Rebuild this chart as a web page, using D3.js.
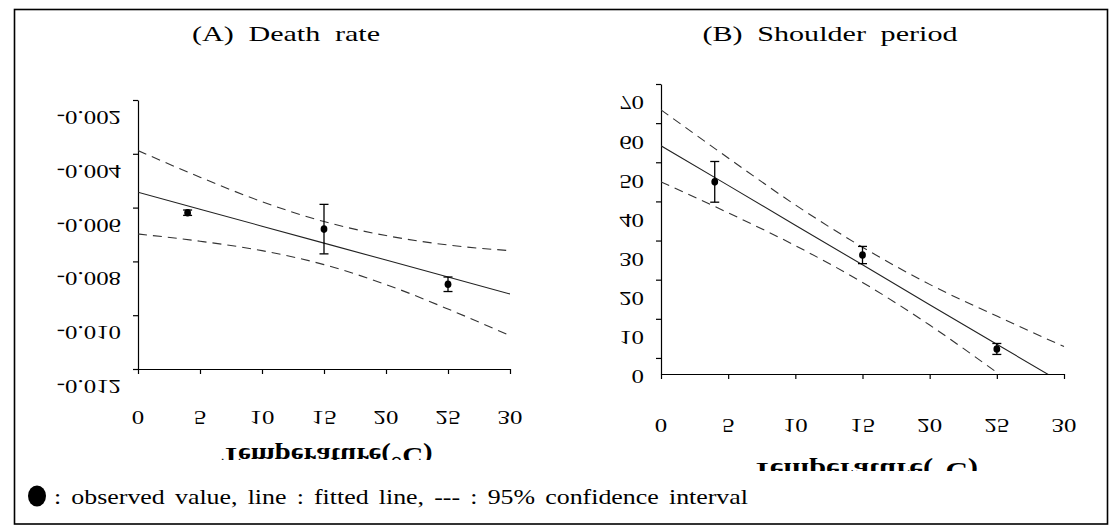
<!DOCTYPE html>
<html><head><meta charset="utf-8">
<script src="https://cdn.jsdelivr.net/npm/d3@7"></script>
<style>
html,body{margin:0;padding:0;background:#fff;}
svg{display:block;}
text{font-family:"Liberation Serif","Times New Roman",serif;fill:#000;}
</style></head>
<body>
<svg id="chart" width="1119" height="528"></svg>
<script>
// ---------- data ----------
const temps = [4, 15, 25];
const deathRate = [-0.00619, -0.00680, -0.00885];
const deathErr = [0.00010, 0.00092, 0.00027];
const shoulder = [45.0, 26.3, 2.3];
const shoulderErr = [5.2, 2.2, 1.4];

const lineX = [0, 5, 10, 15, 20, 25, 30];
const deathFit   = [-0.00543, -0.00606, -0.00669, -0.00732, -0.00795, -0.00858, -0.00921];
const deathUpper = [-0.00388, -0.00487, -0.00578, -0.00652, -0.00704, -0.00739, -0.00760];
const deathLower = [-0.00698, -0.00725, -0.00760, -0.00812, -0.00886, -0.00977, -0.01076];
const shoulderFit   = [54.2, 44.1, 33.9, 23.8, 13.6, 3.5, -6.6];
const shoulderUpper = [63.4, 51.1, 39.1, 28.3, 18.8, 10.7, 2.9];
const shoulderLower = [45.0, 37.1, 28.7, 19.3, 8.4, -3.7, -16.2];

const xTicks = [0, 5, 10, 15, 20, 25, 30];
const xTickLabels = ["0", "5", "10", "15", "20", "25", "30"];
const deathTicks = [-0.002, -0.004, -0.006, -0.008, -0.010, -0.012];
const deathTickLabels = ["-0.002", "-0.004", "-0.006", "-0.008", "-0.010", "-0.012"];
const shoulderTicks = [70, 60, 50, 40, 30, 20, 10, 0];
const shoulderTickLabels = ["70", "60", "50", "40", "30", "20", "10", "0"];

const titles = ["(A) Death rate", "(B) Shoulder period"];
const xTitle = "Temperature(°C)";
const legendText = ": observed value, line : fitted line, --- : 95% confidence interval";

// ---------- drawing ----------
const svg = d3.select("#chart");
const defs = svg.append("defs");

// outer frame
svg.append("rect").attr("x", 14.5).attr("y", 9.5).attr("width", 1093).attr("height", 514.5)
  .attr("fill", "none").attr("stroke", "#000").attr("stroke-width", 1.6);

function panel(cfg) {
  const g = svg.append("g");
  const x = d3.scaleLinear().domain([0, 30]).range([cfg.x0, cfg.x1]);
  const y = d3.scaleLinear().domain(cfg.yDomain).range([cfg.yBottom, cfg.yTop]);
  const axisY = cfg.yBottom;

  // title
  g.append("text").attr("x", cfg.titleX).attr("y", 41).attr("text-anchor", "middle")
    .attr("font-size", 21).attr("word-spacing", 5)
    .attr("textLength", cfg.titleW).attr("lengthAdjust", "spacingAndGlyphs")
    .text(cfg.title);

  // y axis
  const ya = d3.axisLeft(y).tickValues(cfg.yTicks).tickSize(5).tickSizeOuter(0).tickFormat("");
  g.append("g").attr("transform", `translate(${cfg.x0},0)`).call(ya)
    .call(s => s.selectAll("path,line").attr("stroke", "#000").attr("stroke-width", 1.2));
  // x axis
  const xa = d3.axisBottom(x).tickValues(xTicks).tickSize(5).tickSizeOuter(0).tickFormat("");
  g.append("g").attr("transform", `translate(0,${axisY})`).call(xa)
    .call(s => s.selectAll("path,line").attr("stroke", "#000").attr("stroke-width", 1.2));

  // y tick labels (vertically mirrored, shifted as in reference)
  cfg.yTicks.forEach((v, i) => {
    g.append("text")
      .attr("transform", `translate(${cfg.x0 - 17},${y(v) + cfg.labelShift}) scale(1.38,-1)`)
      .attr("text-anchor", "end").attr("font-size", 18).attr("y", 6)
      .text(cfg.yLabels[i]);
  });
  // x tick labels (mirrored)
  xTicks.forEach((v, i) => {
    g.append("text")
      .attr("transform", `translate(${x(v)},${cfg.xLabelY}) scale(1.38,-1)`)
      .attr("text-anchor", "middle").attr("font-size", 18).attr("y", 6)
      .text(xTickLabels[i]);
  });

  // x axis title mirrored and clipped
  const cid = "clip" + cfg.id;
  defs.append("clipPath").attr("id", cid).append("rect")
    .attr("x", cfg.x0 - 100).attr("y", 0).attr("width", 600).attr("height", cfg.xTitleClip);
  g.append("g").attr("clip-path", `url(#${cid})`).append("text")
    .attr("transform", `translate(${cfg.xTitleX},${cfg.xTitleBase}) scale(1,-1)`)
    .attr("text-anchor", "middle").attr("font-size", 23).attr("font-weight", "bold")
    .attr("textLength", cfg.xTitleW).attr("lengthAdjust", "spacingAndGlyphs")
    .text(xTitle);

  // plot clip
  const pid = "plot" + cfg.id;
  defs.append("clipPath").attr("id", pid).append("rect")
    .attr("x", cfg.x0).attr("y", cfg.yTop - 20).attr("width", cfg.x1 - cfg.x0 + 1).attr("height", axisY - cfg.yTop + 20);
  const pg = g.append("g").attr("clip-path", `url(#${pid})`);

  const straight = d3.line().x((d, i) => x(lineX[i])).y(d => y(d));
  const smooth = d3.line().x((d, i) => x(lineX[i])).y(d => y(d)).curve(d3.curveMonotoneX);
  pg.append("path").attr("d", straight(cfg.fit)).attr("fill", "none").attr("stroke", "#222").attr("stroke-width", 1.1);
  [cfg.upper, cfg.lower].forEach(arr => {
    pg.append("path").attr("d", smooth(arr)).attr("fill", "none").attr("stroke", "#333")
      .attr("stroke-width", 1.1).attr("stroke-dasharray", "9,6");
  });

  // error bars + points
  temps.forEach((t, i) => {
    const cx = x(t), v = cfg.vals[i], e = cfg.errs[i];
    const y1 = y(v + e), y2 = y(v - e);
    g.append("line").attr("x1", cx).attr("x2", cx).attr("y1", y1).attr("y2", y2).attr("stroke", "#000").attr("stroke-width", 1.3);
    [y1, y2].forEach(yy => g.append("line").attr("x1", cx - 4.5).attr("x2", cx + 4.5).attr("y1", yy).attr("y2", yy)
      .attr("stroke", "#000").attr("stroke-width", 1.3));
    g.append("ellipse").attr("cx", cx).attr("cy", y(v)).attr("rx", 3.4).attr("ry", 3.8).attr("fill", "#000");
  });
}

panel({
  id: "A", x0: 138, x1: 510, yTop: 100, yBottom: 369, yDomain: [-0.012, -0.002],
  yTicks: deathTicks, yLabels: deathTickLabels, labelShift: 17, xLabelY: 417,
  title: titles[0], titleX: 286, titleW: 188,
  xTitleX: 327, xTitleBase: 448, xTitleW: 211, xTitleClip: 460,
  vals: deathRate, errs: deathErr, fit: deathFit, upper: deathUpper, lower: deathLower
});
panel({
  id: "B", x0: 661, x1: 1064, yTop: 84, yBottom: 374, yDomain: [-4.1, 70],
  yTicks: shoulderTicks, yLabels: shoulderTickLabels, labelShift: 18.5, xLabelY: 425,
  title: titles[1], titleX: 830, titleW: 255,
  xTitleX: 865, xTitleBase: 463, xTitleW: 226, xTitleClip: 471,
  vals: shoulder, errs: shoulderErr, fit: shoulderFit, upper: shoulderUpper, lower: shoulderLower
});

// legend
svg.append("ellipse").attr("cx", 37).attr("cy", 496).attr("rx", 9).attr("ry", 10.5).attr("fill", "#000");
svg.append("text").attr("x", 54).attr("y", 504).attr("font-size", 21).attr("word-spacing", 3)
  .attr("textLength", 694).attr("lengthAdjust", "spacingAndGlyphs").text(legendText);
</script>
</body></html>
